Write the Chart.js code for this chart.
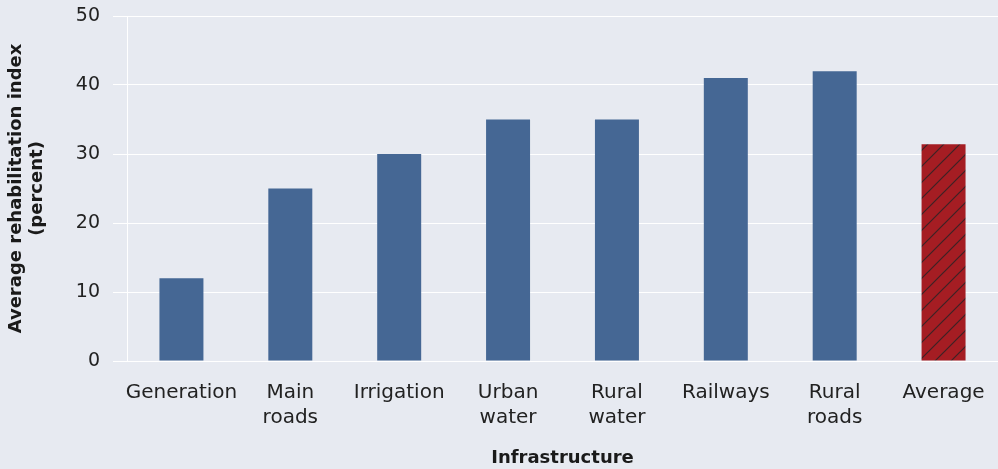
<!DOCTYPE html>
<html>
<head>
<meta charset="utf-8">
<script src="https://cdn.jsdelivr.net/npm/chart.js@4"></script>
<style>
  html, body { margin: 0; padding: 0; background: #e7eaf1; }
  #wrap { width: 998px; height: 469px; position: relative; }
</style>
</head>
<body>
<div id="wrap"><canvas id="myChart"></canvas></div>
<script>
// data
const categories = [["Generation"], ["Main", "roads"], ["Irrigation"], ["Urban", "water"], ["Rural", "water"], ["Railways"], ["Rural", "roads"], ["Average"]];
const values = [12, 25, 30, 35, 35, 41, 42, 31.4];
const yTicks = [0, 10, 20, 30, 40, 50];

// hatch pattern for the average bar
const makeHatch = () => {
  const c = document.createElement('canvas');
  c.width = 16;
  c.height = 16;
  const g = c.getContext('2d');
  g.fillStyle = '#a51d23';
  g.fillRect(0, 0, 16, 16);
  g.strokeStyle = '#3d2326';
  g.lineWidth = 1.2;
  g.beginPath();
  g.moveTo(0, 16); g.lineTo(16, 0);
  g.moveTo(-4, 4); g.lineTo(4, -4);
  g.moveTo(12, 20); g.lineTo(20, 12);
  g.stroke();
  return g.createPattern(c, 'repeat');
};

const barColors = values.map((v, i) => i === values.length - 1 ? makeHatch() : '#456794');

const family = "'DejaVu Sans', 'Liberation Sans', sans-serif";

const ctx = document.getElementById('myChart');
new Chart(ctx, {
  type: 'bar',
  data: {
    labels: categories,
    datasets: [{
      data: values,
      backgroundColor: barColors,
      borderWidth: 0,
      barPercentage: 0.404,
      categoryPercentage: 1
    }]
  },
  options: {
    responsive: true,
    maintainAspectRatio: false,
    animation: false,
    layout: { padding: { top: 16, right: 0, bottom: 0, left: 0 } },
    plugins: { legend: { display: false }, tooltip: { enabled: false } },
    scales: {
      x: {
        afterFit: (axis) => { axis.height = 108; axis.paddingLeft = 0; axis.paddingRight = 0; },
        grid: { display: false },
        border: { display: false },
        ticks: { color: '#222', font: { family: family, size: 20, lineHeight: 1.25 }, maxRotation: 0, autoSkip: false, padding: 11 },
        title: {
          display: true,
          text: 'Infrastructure',
          color: '#1a1a1a',
          font: { family: family, size: 18, weight: 'bold' },
          padding: { top: 4, bottom: 0 }
        }
      },
      y: {
        min: 0,
        max: 50,
        afterFit: (axis) => { axis.width = 127; axis.paddingTop = 0; axis.paddingBottom = 0; },
        afterBuildTicks: (axis) => { axis.ticks = yTicks.map(v => ({ value: v })); },
        grid: { color: '#ffffff', lineWidth: 1, tickLength: 14, drawTicks: true },
        border: { display: true, color: '#ffffff', width: 1 },
        ticks: { color: '#222', font: { family: family, size: 19 }, padding: 13 },
        title: {
          display: true,
          text: ['Average rehabilitation index', '(percent)'],
          color: '#1a1a1a',
          font: { family: family, size: 18, weight: 'bold', lineHeight: 1.15 },
          padding: { top: 6, bottom: 0 }
        }
      }
    }
  }
});
</script>
</body>
</html>
